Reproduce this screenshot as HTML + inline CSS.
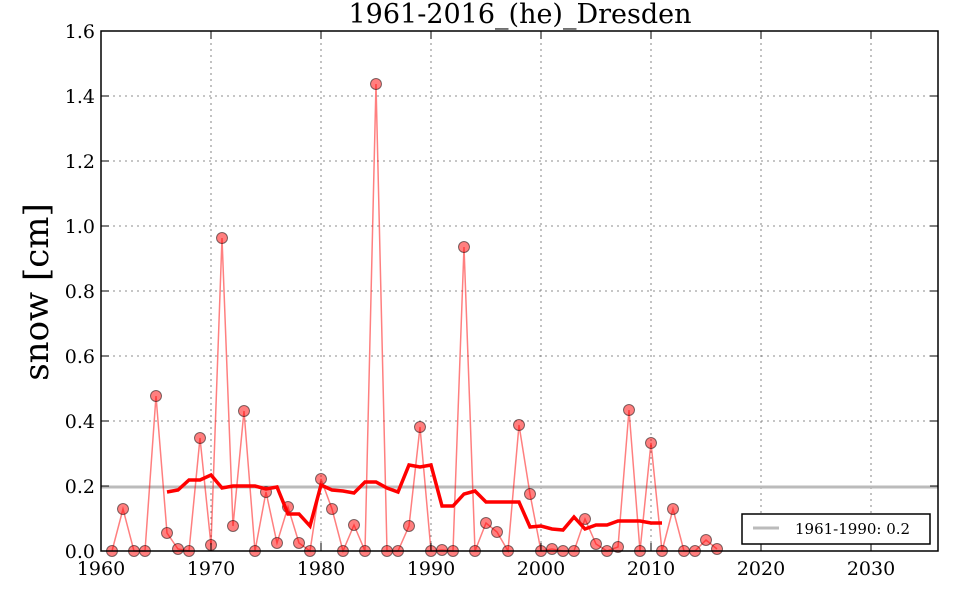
<!DOCTYPE html>
<html><head><meta charset="utf-8"><style>body{margin:0;background:#fff}svg{display:block}text{font-family:"DejaVu Serif","Liberation Serif",serif}</style></head>
<body>
<svg id="s" width="960" height="600" xmlns="http://www.w3.org/2000/svg">
<rect width="960" height="600" fill="#fff"/>
<g id="grid" stroke="#000" stroke-width="0.8" stroke-dasharray="2,4" opacity="0.6"></g>
<line x1="101" x2="938" y1="487" y2="487" stroke="#bbb" stroke-width="3"/>
<g id="data"></g>
<rect x="101" y="31" width="837" height="520" fill="none" stroke="#000" stroke-width="1.5"/>
<g id="ticks" stroke="#000" stroke-width="1"></g>
<g id="labels" font-size="19" fill="#000"></g>
<text x="520" y="23" font-size="27" text-anchor="middle">1961-2016_(he)_Dresden</text>
<text transform="translate(48,292) rotate(-90)" font-size="34" text-anchor="middle">snow [cm]</text>
<rect x="742" y="514" width="188" height="30" fill="#fff" stroke="#000" stroke-width="1.5"/>
<line x1="753" x2="779" y1="528" y2="528" stroke="#bbb" stroke-width="3"/>
<text x="795" y="534" font-size="15">1961-1990: 0.2</text>
</svg>
<script>
const NS="http://www.w3.org/2000/svg";
function el(p,t,a,txt){const e=document.createElementNS(NS,t);for(const k in a)e.setAttribute(k,a[k]);if(txt)e.textContent=txt;p.appendChild(e);return e;}
const X=y=>101+(y-1960)*11;
const grid=document.getElementById('grid'),ticks=document.getElementById('ticks'),lab=document.getElementById('labels');
for(let y=1970;y<=2030;y+=10){el(grid,'line',{x1:X(y),x2:X(y),y1:31,y2:551});}
for(let y=1960;y<=2030;y+=10){el(ticks,'line',{x1:X(y),x2:X(y),y1:551,y2:543});el(ticks,'line',{x1:X(y),x2:X(y),y1:31,y2:39});el(lab,'text',{x:X(y),y:575,'text-anchor':'middle'},String(y));}
for(let i=0;i<=8;i++){const v=i*0.2,py=551-v*325;if(i>0&&i<8)el(grid,'line',{x1:101,x2:938,y1:py,y2:py});
el(ticks,'line',{x1:101,x2:109,y1:py,y2:py});el(ticks,'line',{x1:938,x2:930,y1:py,y2:py});
el(lab,'text',{x:95,y:py+7,'text-anchor':'end'},v.toFixed(1));}
const pts=[551,509,551,551,396,533,549,551,438,545,238,526,411,551,492,543,507,543,551,479,509,551,525,551,84,551,551,526,427,551,550,551,247,551,523,532,551,425,494,551,549,551,551,519,544,551,547,410,551,443,551,509,551,551,540,549];
const rm=[492,490,480,480,475,488,486,486,486,489,487,514,514,526,485,490,491,493,482,482,488,492,465,467,465,506,506,494,491,502,502,502,502,527,526,529,530,517,529,525,525,521,521,521,523,523];
const d=document.getElementById('data');
el(d,'polyline',{points:pts.map((p,i)=>X(1961+i)+','+p).join(' '),fill:'none',stroke:'#ff0000','stroke-opacity':0.5,'stroke-width':1.5});
pts.forEach((p,i)=>el(d,'circle',{cx:X(1961+i),cy:p,r:5.5,fill:'#ff0000','fill-opacity':0.5,stroke:'#000','stroke-opacity':0.5,'stroke-width':1}));
el(d,'polyline',{points:rm.map((p,i)=>X(1966+i)+','+p).join(' '),fill:'none',stroke:'#ff0000','stroke-width':3.5});
</script>
</body></html>
